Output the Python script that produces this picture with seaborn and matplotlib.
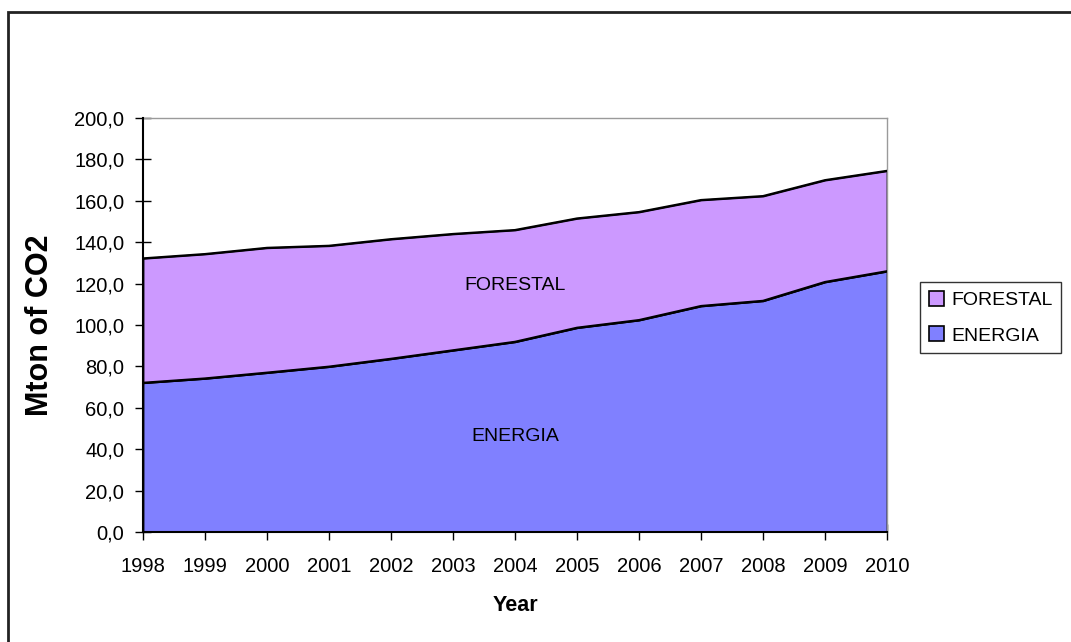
import numpy as np
import pandas as pd
import matplotlib
matplotlib.use("Agg")
import matplotlib.pyplot as plt
import seaborn as sns
from matplotlib.patches import Rectangle
from matplotlib.ticker import FuncFormatter, MultipleLocator

# Emissions by source (Mton CO2)
years = [1998, 1999, 2000, 2001, 2002, 2003, 2004, 2005, 2006, 2007, 2008, 2009, 2010]
energia = [72.1, 74.2, 77.0, 79.9, 83.7, 87.8, 91.9, 98.7, 102.4, 109.2, 111.7, 120.8, 126.0]
forestal = [60.1, 60.1, 60.3, 58.4, 57.8, 56.2, 54.0, 52.8, 52.2, 51.2, 50.6, 49.2, 48.5]
series_colors = {"ENERGIA": "#8080FF", "FORESTAL": "#CC99FF"}
label_year = 2004

sns.set_theme(style="white")
plt.rcParams["font.family"] = ["Liberation Sans", "DejaVu Sans"]
plt.rcParams["text.color"] = "black"
plt.rcParams["axes.labelcolor"] = "black"

df = pd.DataFrame({"Year": years, "ENERGIA": energia, "FORESTAL": forestal})
df["TOTAL"] = df["ENERGIA"] + df["FORESTAL"]

fig = plt.figure(figsize=(10.71, 6.42), dpi=100)
ax = fig.add_axes([143 / 1071, 1 - 532 / 642, (887 - 143) / 1071, (532 - 118) / 642])

ax.stackplot(df["Year"], df["ENERGIA"], df["FORESTAL"],
             colors=[series_colors["ENERGIA"], series_colors["FORESTAL"]],
             edgecolor="black", linewidth=1.3, zorder=2)
sns.lineplot(data=df, x="Year", y="ENERGIA", color="black", linewidth=1.5, ax=ax, zorder=3)
sns.lineplot(data=df, x="Year", y="TOTAL", color="black", linewidth=1.5, ax=ax, zorder=3)

ax.set_xlim(years[0], years[-1])
ax.set_ylim(0, 200)
ax.set_xticks(years)
ax.set_xticklabels([str(y) for y in years])
ax.yaxis.set_major_locator(MultipleLocator(20))
ax.yaxis.set_major_formatter(FuncFormatter(lambda v, p: f"{v:.1f}".replace(".", ",")))
ax.tick_params(axis="x", direction="inout", length=12, width=1, colors="black",
               labelsize=14.5, pad=12, bottom=True)
ax.tick_params(axis="y", direction="inout", length=12, width=1, colors="black",
               labelsize=14.5, pad=7.5, left=True)

for side in ["left", "bottom"]:
    ax.spines[side].set_color("black")
    ax.spines[side].set_linewidth(1.5)
    ax.spines[side].set_zorder(4)
for side in ["top", "right"]:
    ax.spines[side].set_color("#9a9a9a")
    ax.spines[side].set_linewidth(1.0)

ax.set_xlabel("Year", fontsize=15.5, fontweight="bold", labelpad=14)
ax.set_ylabel("Mton of CO2", fontsize=22, fontweight="bold", labelpad=14)

# Band labels at the middle of each band
row = df[df["Year"] == label_year].iloc[0]
ax.text(label_year, row["ENERGIA"] / 2, "ENERGIA", ha="center", va="center",
        fontsize=14, color="black", zorder=5)
ax.text(label_year, row["ENERGIA"] + row["FORESTAL"] / 2, "FORESTAL", ha="center",
        va="center", fontsize=14, color="black", zorder=5)

handles = [Rectangle((0, 0), 1, 1, facecolor=series_colors[n], edgecolor="black", linewidth=1.2)
           for n in ["FORESTAL", "ENERGIA"]]
leg = fig.legend(handles, ["FORESTAL", "ENERGIA"], loc="upper left",
                 bbox_to_anchor=(920 / 1071, 1 - 282 / 642), fontsize=14,
                 frameon=True, fancybox=False, edgecolor="black", borderpad=0.45,
                 handlelength=0.8, handleheight=0.8, handletextpad=0.35,
                 labelspacing=0.9, borderaxespad=0)
leg.get_frame().set_linewidth(1.0)

# Chart frame
fig.patches.append(Rectangle((8 / 1071, -0.05), 1.1, 1 - 12 / 642 + 0.05,
                             transform=fig.transFigure, fill=False,
                             edgecolor="#222222", linewidth=2, zorder=10))

fig.savefig("out.png", dpi=100, facecolor="white")
